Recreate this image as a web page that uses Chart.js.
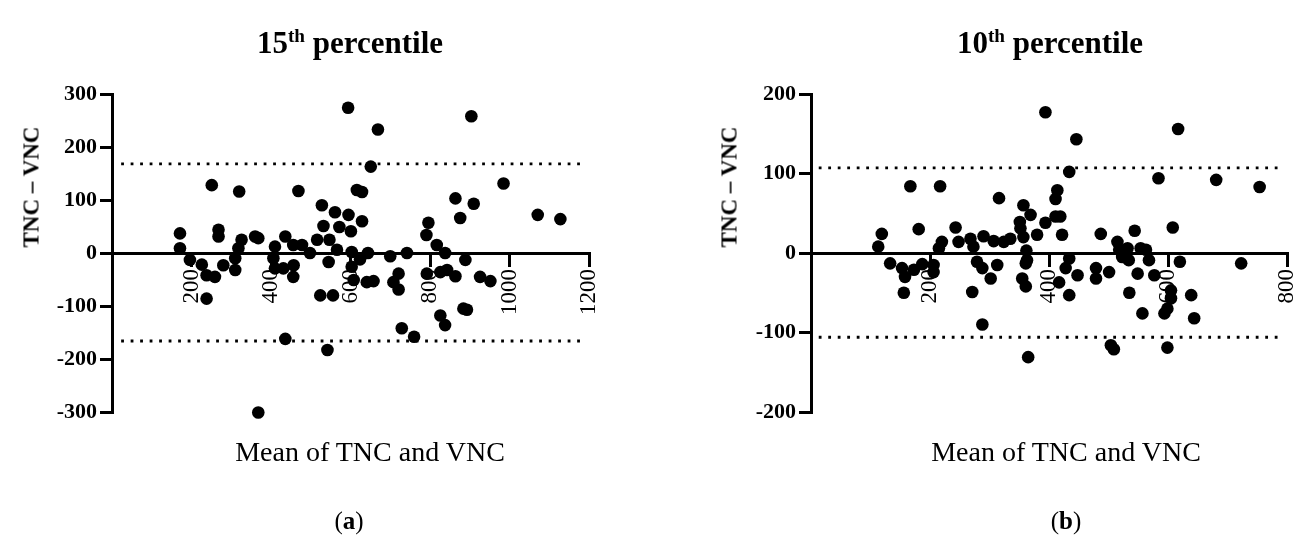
<!DOCTYPE html>
<html><head><meta charset="utf-8">
<script src="https://cdn.jsdelivr.net/npm/chart.js@4"></script>
<style>
body{margin:0;width:1298px;height:540px;background:#fff;overflow:hidden;font-family:"Liberation Serif",serif;position:relative;}
.c{position:absolute;top:0;width:649px;height:540px;}
.t{position:absolute;white-space:nowrap;transform:translate(-50%,-50%);color:#000;line-height:1;}
.r{transform:translate(-50%,-50%) rotate(-90deg);}
.sup{font-size:0.62em;vertical-align:0.62em;}
</style></head><body>
<div class="c" style="left:0"><canvas id="ca" width="649" height="540"></canvas></div>
<div class="c" style="left:649px"><canvas id="cb" width="649" height="540"></canvas></div>
<div class="t" style="left:350px;top:42px;font-weight:bold;font-size:31px">15<span class="sup">th</span> percentile</div>
<div class="t" style="left:1050px;top:42px;font-weight:bold;font-size:31px">10<span class="sup">th</span> percentile</div>
<div class="t r" style="left:31px;top:187px;font-weight:bold;font-size:23px">TNC – VNC</div>
<div class="t r" style="left:729px;top:187px;font-weight:bold;font-size:23px">TNC – VNC</div>
<div class="t" style="left:370px;top:452px;font-size:28px">Mean of TNC and VNC</div>
<div class="t" style="left:1066px;top:452px;font-size:28px">Mean of TNC and VNC</div>
<div class="t" style="left:349px;top:520px;font-size:25px">(<b>a</b>)</div>
<div class="t" style="left:1066px;top:520px;font-size:25px">(<b>b</b>)</div>
<script>
// ---- data: panel (a) 15th percentile ----
const meanA = [171,171,196,226,238,259,280,268,268,310,310,326,318,360,368,238,410,406,410,436,456,431,456,251,320,469,368,436,542,594,669,904,651,616,629,985,864,910,876,1071,1128,528,561,595,629,532,572,601,516,547,478,498,566,603,644,700,742,545,624,603,608,641,658,708,721,721,524,556,796,791,817,838,889,792,826,843,864,926,952,884,893,826,838,729,760,457];
const diffA = [37,9,-13,-22,-42,-45,-23,44,31,-10,-32,25,9,31,28,-86,12,-10,-29,31,15,-29,-45,128,116,117,-301,-162,-183,274,233,258,163,119,115,131,103,93,66,72,64,90,77,72,60,51,49,41,25,25,15,0,6,2,0,-6,0,-17,-12,-26,-51,-55,-53,-55,-39,-69,-80,-80,57,34,15,0,-13,-39,-36,-32,-44,-45,-53,-105,-107,-118,-136,-142,-158,-23];
const limitsA = [168, -166];
const limitSpanA = [23, 1180];
const xTicksA = [0,200,400,600,800,1000,1200];
const yTicksA = [-300,-200,-100,0,100,200,300];
// ---- data: panel (b) 10th percentile ----
const meanB = [113,119,133,153,158,173,187,181,167,217,206,206,215,220,243,248,268,273,279,288,302,156,271,288,365,290,307,324,335,313,316,357,369,351,352,380,394,411,419,422,414,411,434,394,446,617,584,681,754,487,515,518,363,361,355,361,434,428,448,417,434,479,501,479,544,608,532,554,563,523,534,568,620,723,549,577,535,557,594,599,605,605,639,644,504,509,599,357,362];
const diffB = [8,24,-13,-19,-30,-21,-14,30,84,84,-15,-24,6,14,32,14,18,8,-11,-19,-32,-50,-49,-90,-131,21,15,14,18,-15,69,60,48,39,31,23,38,46,46,23,79,68,102,177,143,156,94,92,83,24,14,4,-9,-13,-32,-42,-7,-19,-28,-37,-53,-19,-24,-32,28,32,6,6,4,-5,-9,-9,-11,-13,-26,-28,-50,-76,-76,-70,-47,-57,-53,-82,-116,-121,-119,20,3];
const limitsB = [107, -106];
const limitSpanB = [13, 787];
const xTicksB = [0,200,400,600,800];
const yTicksB = [-200,-100,0,100,200];

const FONT = "'Liberation Serif', serif";

function make(id, xs, ys, limits, span, xT, yT, yAxisW, padRight) {
  const pts = xs.map((x, i) => ({x: x, y: ys[i]}));
  const limitSets = limits.map(v => ({
    type: 'line',
    data: [{x: span[0], y: v}, {x: span[1], y: v}],
    borderColor: '#000', borderWidth: 2.8, borderDash: [2.8, 6.7],
    pointRadius: 0, fill: false, showLine: true, order: 2, clip: false
  }));
  return new Chart(document.getElementById(id), {
    type: 'scatter',
    data: {
      datasets: [{
        data: pts, backgroundColor: '#000', borderWidth: 0,
        pointRadius: 6.3, pointHoverRadius: 6.3, order: 1, clip: false
      }].concat(limitSets)
    },
    options: {
      responsive: false, animation: false,
      layout: {padding: {left: 0, top: 94, right: padRight, bottom: 128}},
      plugins: {legend: {display: false}, tooltip: {enabled: false}},
      scales: {
        x: {
          type: 'linear', position: {y: 0},
          min: xT[0], max: xT[xT.length - 1],
          afterBuildTicks: s => { s.ticks = xT.map(v => ({value: v})); },
          afterFit: s => { s.paddingLeft = 0; s.paddingRight = 0; },
          border: {display: true, color: '#000', width: 3},
          grid: {display: true, drawOnChartArea: false, drawTicks: true, tickLength: 12, lineWidth: 3, color: '#000'},
          ticks: {
            autoSkip: false, minRotation: 90, maxRotation: 90, padding: 4, color: '#000',
            font: {family: FONT, size: 23},
            callback: v => v === 0 ? '' : String(v)
          }
        },
        y: {
          type: 'linear', position: 'left',
          min: yT[0], max: yT[yT.length - 1],
          afterBuildTicks: s => { s.ticks = yT.map(v => ({value: v})); },
          afterFit: s => { s.width = yAxisW; },
          border: {display: true, color: '#000', width: 3},
          grid: {display: true, drawOnChartArea: false, drawTicks: true, tickLength: 12, lineWidth: 3, color: '#000'},
          ticks: {
            padding: 3, color: '#000',
            font: {family: FONT, size: 22, weight: 'bold'},
            callback: v => String(v)
          }
        }
      }
    }
  });
}

make('ca', meanA, diffA, limitsA, limitSpanA, xTicksA, yTicksA, 112, 60);
make('cb', meanB, diffB, limitsB, limitSpanB, xTicksB, yTicksB, 162, 11);
</script>
</body></html>
